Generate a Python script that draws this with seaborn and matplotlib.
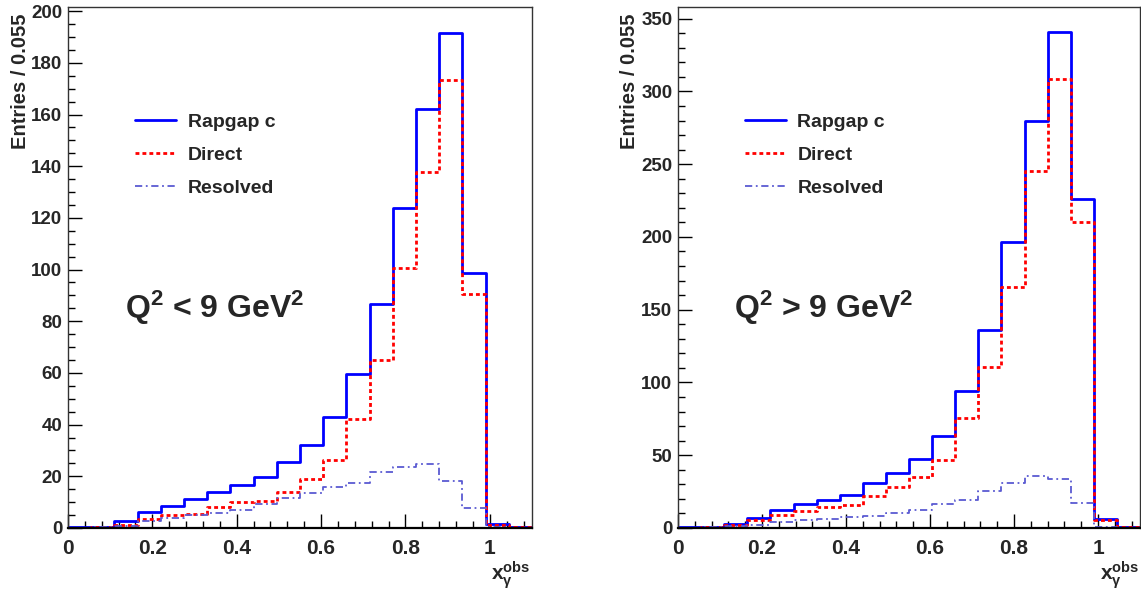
import pandas as pd
import matplotlib
matplotlib.use("Agg")
import matplotlib.pyplot as plt
from matplotlib.lines import Line2D
from matplotlib.ticker import MultipleLocator
import seaborn as sns

# Bin edges: 20 bins of width 0.055 from 0 to 1.1
bin_edges = [round(0.055 * k, 3) for k in range(21)]
bin_centers = [round(0.055 * k + 0.0275, 4) for k in range(20)]

# Q^2 < 9 GeV^2
low_rapgap = [0.3, 0.5, 2.8, 6.0, 8.4, 11.1, 14.0, 16.7, 19.6, 25.4, 32.2, 42.9,
              59.5, 86.6, 124.0, 162.0, 191.5, 98.5, 1.7, 0.4]
low_direct = [0.0, 0.2, 1.2, 3.3, 5.0, 5.3, 8.2, 9.9, 10.3, 13.8, 18.9, 26.5,
              42.2, 65.1, 100.5, 137.6, 173.5, 90.6, 1.2, 0.3]
low_resolved = [0.1, 0.3, 0.8, 2.8, 3.7, 5.0, 5.7, 7.0, 9.3, 11.8, 13.4, 16.0,
                17.5, 21.5, 23.7, 24.6, 18.0, 7.6, 0.3, 0.1]

# Q^2 > 9 GeV^2
high_rapgap = [0.5, 1.0, 2.8, 6.7, 12.4, 16.8, 19.5, 23.0, 30.8, 38.1, 47.3, 63.4,
               94.4, 136.0, 196.6, 280.0, 341.0, 226.0, 6.4, 0.5]
high_direct = [0.2, 0.6, 1.9, 5.5, 8.7, 11.7, 14.2, 15.6, 22.0, 28.5, 34.9, 46.6,
               75.8, 110.7, 165.5, 245.0, 308.5, 210.0, 5.5, 0.4]
high_resolved = [0.1, 0.5, 1.4, 2.1, 4.1, 5.5, 6.2, 7.3, 8.3, 10.1, 12.4, 16.5,
                 19.3, 25.3, 31.2, 35.4, 33.6, 17.0, 1.0, 0.1]

series_names = ["Rapgap c", "Direct", "Resolved"]
panel_texts = [r"$\mathbf{Q^{2}}$ < 9 GeV$\mathbf{^{2}}$",
               r"$\mathbf{Q^{2}}$ > 9 GeV$\mathbf{^{2}}$"]

sns.set_style("ticks")
plt.rcParams["font.family"] = ["Liberation Sans", "DejaVu Sans"]
plt.rcParams["font.weight"] = "bold"
plt.rcParams["mathtext.fontset"] = "custom"
plt.rcParams["mathtext.rm"] = "Liberation Sans:bold"
plt.rcParams["mathtext.bf"] = "Liberation Sans:bold"
plt.rcParams["mathtext.it"] = "Liberation Sans:bold:italic"

styles = [
    dict(color="#0000ff", linestyle="-", linewidth=2.0),
    dict(color="#ff0000", linestyle=(0, (1.4, 1.1)), linewidth=2.0),
    dict(color="#5a5ad2", linestyle=(0, (4, 2, 1, 2)), linewidth=1.3),
]

fig = plt.figure(figsize=(11.41, 5.93), dpi=100)
ax_l = fig.add_axes([68 / 1141, 65 / 593, 464 / 1141, 521 / 593])
ax_r = fig.add_axes([678 / 1141, 65 / 593, 462 / 1141, 521 / 593])

panels = [
    (ax_l, [low_rapgap, low_direct, low_resolved], 201.6, 20, 5, -0.082, 0.996),
    (ax_r, [high_rapgap, high_direct, high_resolved], 358.0, 50, 10, -0.085, 0.998),
]

for i, (ax, series, ymax, ymaj, ymin, ylab_x, xlab_x) in enumerate(panels):
    for vals, st in zip(series, styles):
        df = pd.DataFrame({"x": bin_centers, "n": vals})
        sns.histplot(data=df, x="x", weights="n", bins=bin_edges, element="step",
                     fill=False, ax=ax, **st)

    ax.set_xlim(0, 1.1)
    ax.set_ylim(0, ymax)
    ax.xaxis.set_major_locator(MultipleLocator(0.2))
    ax.xaxis.set_minor_locator(MultipleLocator(0.04))
    ax.yaxis.set_major_locator(MultipleLocator(ymaj))
    ax.yaxis.set_minor_locator(MultipleLocator(ymin))
    ax.tick_params(which="both", direction="in", top=False, right=False,
                   width=1, color="black")
    ax.tick_params(which="major", length=10)
    ax.tick_params(which="minor", length=5)
    ax.tick_params(axis="x", pad=8, labelsize=15)
    ax.tick_params(axis="y", pad=4, labelsize=13.5)
    ax.xaxis.set_major_formatter(plt.FuncFormatter(lambda v, p: f"{v:g}"))
    for sp in ax.spines.values():
        sp.set_visible(True)
        sp.set_linewidth(1.0)
        sp.set_color("#333333")
    ax.spines["bottom"].set_linewidth(1.6)
    ax.spines["bottom"].set_color("black")

    ax.set_ylabel("Entries / 0.055", fontsize=14.5, fontweight="bold", loc="top")
    ax.yaxis.set_label_coords(ylab_x, 0.988)
    ax.set_xlabel(r"$\mathbf{x_{\gamma}^{obs}}$", fontsize=15, loc="right")
    ax.xaxis.label.set_va("baseline")
    ax.xaxis.set_label_coords(xlab_x, -0.100)

    handles = [Line2D([0], [0], **st) for st in styles]
    ax.legend(handles, series_names, loc="upper left", bbox_to_anchor=(0.145, 0.796),
              frameon=False, handlelength=2.1, handletextpad=0.6,
              labelspacing=0.8, borderpad=0, borderaxespad=0,
              prop={"weight": "bold", "size": 14})

    ax.text(0.122, 0.403, panel_texts[i], transform=ax.transAxes, fontsize=23,
            fontweight="bold", ha="left", va="baseline")

fig.savefig("out.png", dpi=100)
